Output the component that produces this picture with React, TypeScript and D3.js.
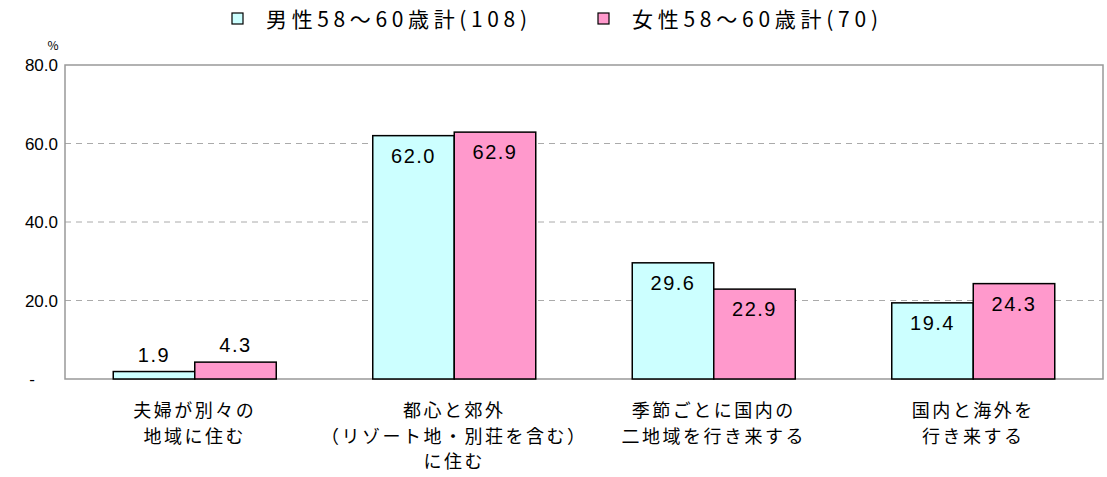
import { useEffect, useRef } from 'react'
import * as d3 from 'd3'

const categories = [
  ['夫婦が別々の', '地域に住む'],
  ['都心と郊外', '（リゾート地・別荘を含む）', 'に住む'],
  ['季節ごとに国内の', '二地域を行き来する'],
  ['国内と海外を', '行き来する'],
]
const seriesNames = ['男性58～60歳計(108)', '女性58～60歳計(70)']
const seriesColors = ['#ccffff', '#ff99cc']
const maleValues = [1.9, 62.0, 29.6, 19.4]
const femaleValues = [4.3, 62.9, 22.9, 24.3]
const yTicks = [0, 20, 40, 60, 80]

const FONT = '"Noto Sans CJK JP", "Noto Sans", sans-serif'
const NUM_FONT = '"Liberation Sans", Arial, sans-serif'

export default function App() {
  const svgRef = useRef<SVGSVGElement>(null)

  useEffect(() => {
    if (!svgRef.current) return
    const W = 1107
    const H = 477
    const margin = { top: 65, right: 4, bottom: 98, left: 65 }
    const width = W - margin.left - margin.right
    const height = H - margin.top - margin.bottom

    d3.select(svgRef.current).selectAll('*').remove()
    const root = d3.select(svgRef.current)
      .attr('width', W)
      .attr('height', H)
      .style('font-family', FONT)
    const svg = root.append('g').attr('transform', `translate(${margin.left},${margin.top})`)

    const idx = categories.map((_, i) => String(i))
    const x = d3.scaleBand().domain(idx).range([0, width]).paddingInner(0).paddingOuter(0)
    const x1 = d3.scaleBand().domain(['0', '1']).range([0, 163]).padding(0)
    const groupOffset = (x.bandwidth() - 163) / 2
    const y = d3.scaleLinear().domain([0, 80]).range([height, 0])

    // grid
    svg.selectAll('.grid')
      .data(yTicks.filter(t => t > 0 && t < 80))
      .join('line')
      .attr('x1', 0)
      .attr('x2', width)
      .attr('y1', d => y(d))
      .attr('y2', d => y(d))
      .attr('stroke', '#aaa')
      .attr('stroke-width', 1)
      .attr('stroke-dasharray', '6,5')

    // frame
    svg.append('rect')
      .attr('x', 0).attr('y', 0)
      .attr('width', width).attr('height', height)
      .attr('fill', 'none')
      .attr('stroke', '#999')
      .attr('stroke-width', 1.5)

    // y labels
    svg.selectAll('.ylab')
      .data(yTicks)
      .join('text')
      .attr('x', d => (d === 0 ? -30 : -7))
      .attr('y', d => y(d) + (d === 0 ? 6 : 6))
      .attr('text-anchor', 'end')
      .attr('font-family', NUM_FONT)
      .attr('font-size', '17px')
      .attr('fill', '#000')
      .text(d => (d === 0 ? '-' : d.toFixed(1)))
    svg.append('text')
      .attr('x', -12).attr('y', -15)
      .attr('text-anchor', 'middle')
      .attr('font-size', '12px')
      .text('%')

    const data = [maleValues, femaleValues]
    data.forEach((vals, s) => {
      const g = svg.append('g')
      g.selectAll('rect')
        .data(vals)
        .join('rect')
        .attr('x', (_, i) => (x(String(i)) || 0) + groupOffset + (x1(String(s)) || 0))
        .attr('y', d => y(d))
        .attr('width', x1.bandwidth())
        .attr('height', d => height - y(d))
        .attr('fill', seriesColors[s])
        .attr('stroke', '#000')
        .attr('stroke-width', 1.5)
      g.selectAll('text')
        .data(vals)
        .join('text')
        .attr('x', (_, i) => (x(String(i)) || 0) + groupOffset + (x1(String(s)) || 0) + x1.bandwidth() / 2)
        .attr('y', d => (d < 10 ? y(d) - 10 : y(d) + 27))
        .attr('text-anchor', 'middle')
        .attr('font-family', NUM_FONT)
        .attr('font-size', '20px')
        .attr('letter-spacing', '1.5px')
        .attr('fill', '#000')
        .text(d => d.toFixed(1))
    })

    // category labels
    categories.forEach((lines, i) => {
      const t = svg.append('text')
        .attr('text-anchor', 'middle')
        .attr('font-size', '18px')
        .attr('letter-spacing', '2.5px')
        .attr('fill', '#000')
      lines.forEach((ln, j) => {
        t.append('tspan')
          .attr('x', (x(String(i)) || 0) + x.bandwidth() / 2)
          .attr('y', height + 38 + j * 25.5)
          .text(ln)
      })
    })

    // legend
    const legendX = [232, 598]
    const legendLen = [261, 246]
    seriesNames.forEach((name, s) => {
      root.append('rect')
        .attr('x', legendX[s]).attr('y', 13)
        .attr('width', 11).attr('height', 11)
        .attr('fill', seriesColors[s])
        .attr('stroke', '#000')
        .attr('stroke-width', 1.2)
      root.append('text')
        .attr('x', legendX[s] + 34).attr('y', 27)
        .attr('font-size', '21px')
        .attr('textLength', legendLen[s])
        .attr('lengthAdjust', 'spacing')
        .attr('fill', '#000')
        .text(name)
    })
  }, [])

  return (
    <div style={{ position: 'absolute', left: 0, top: 0 }}>
      <svg ref={svgRef}></svg>
    </div>
  )
}
